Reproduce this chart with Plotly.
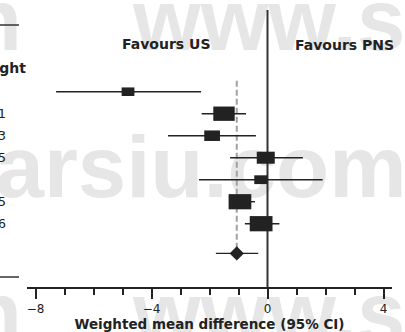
import plotly.graph_objects as go
import numpy as np

# ---- data ----
estimates = [-4.81, -1.50, -1.91, -0.06, -0.23, -0.95, -0.22]
ci_lower = [-7.29, -2.27, -3.43, -1.29, -2.36, -1.33, -0.78]
ci_upper = [-2.29, -0.74, -0.40, 1.22, 1.90, -0.43, 0.41]
weights = [6.8, 19.1, 10.3, 13.5, 7.2, 21.5, 21.6]
pooled_est = -1.06
pooled_lower = -1.78
pooled_upper = -0.32
x_tick_vals = [-8, -4, 0, 4]
x_title = "Weighted mean difference (95% CI)"
left_header = "Favours US"
right_header = "Favours PNS"
weight_header = "Weight"
watermark = "www.sarsiu.com"

# ---- layout geometry ----
W, H = 405, 332
ML, MR, MT, MB = 27, 13, 10, 45
PW, PH = W - ML - MR, H - MT - MB
XR = [-8.293, 4.293]
YR = [9.877, -2.714]          # reversed row axis
rows = list(range(1, len(estimates) + 1))
pooled_row = 8.35
INK = "#222222"


def px2x(px):
    return XR[0] + (px - ML) / PW * (XR[1] - XR[0])


def px2y(py):
    return YR[1] + (py - MT) / PH * (YR[0] - YR[1])


def paper_x(px):
    return (px - ML) / PW


def paper_y(py):
    return (H - MB - py) / PH


fig = go.Figure()

# watermark (drawn first so that everything sits on top of it)
WM = 87
NB = "\u00a0"
wm_font = dict(family="Liberation Sans, Arial", size=WM, color="#e6e6e6", weight="bold")
fig.add_trace(go.Scatter(
    x=[px2x(133), px2x(46), px2x(201), px2x(133), px2x(46)],
    y=[px2y(28), px2y(28), px2y(175), px2y(278), px2y(278)],
    text=[watermark, watermark[-1] + NB, watermark[5:], watermark, watermark[-1] + NB],
    mode="text",
    textposition=["middle right", "middle left", "middle center", "bottom right", "bottom left"],
    textfont=wm_font, cliponaxis=False, hoverinfo="skip", showlegend=False))

# line of no effect
fig.add_trace(go.Scatter(x=[0, 0], y=[YR[0], YR[1]], mode="lines",
                         line=dict(color="#333333", width=2),
                         hoverinfo="skip", showlegend=False))

# pooled estimate dashed line
fig.add_trace(go.Scatter(x=[pooled_est, pooled_est], y=[0.5, pooled_row], mode="lines",
                         line=dict(color="#a0a0a0", width=2, dash="6px,3px"),
                         hoverinfo="skip", showlegend=False))

# confidence intervals
cx, cy = [], []
for r, lo, hi in zip(rows, ci_lower, ci_upper):
    cx += [lo, hi, None]
    cy += [r, r, None]
cx += [pooled_lower, pooled_upper]
cy += [pooled_row, pooled_row]
fig.add_trace(go.Scatter(x=cx, y=cy, mode="lines", line=dict(color=INK, width=1.4),
                         hoverinfo="skip", showlegend=False))

# pooled diamond
fig.add_trace(go.Scatter(x=[pooled_est], y=[pooled_row], mode="markers",
                         marker=dict(symbol="diamond", size=11, color=INK,
                                     line=dict(width=0)),
                         hoverinfo="skip", showlegend=False))

# study boxes, area proportional to weight
BOX_W = 0.169   # x units per sqrt(weight)
BOX_H = 0.149   # row units per sqrt(weight)
for r, est, w in zip(rows, estimates, weights):
    s = np.sqrt(w)
    fig.add_shape(type="rect", xref="x", yref="y",
                  x0=est - BOX_W * s / 2, x1=est + BOX_W * s / 2,
                  y0=r - BOX_H * s / 2, y1=r + BOX_H * s / 2,
                  fillcolor=INK, line=dict(width=0), layer="above")

# table rules on the left
for py in (25, 277):
    fig.add_shape(type="line", xref="paper", yref="paper",
                  x0=paper_x(0), x1=paper_x(19), y0=paper_y(py), y1=paper_y(py),
                  line=dict(color="#333333", width=1.5))

annots = []
hdr_font = dict(family="DejaVu Sans", size=14, color=INK, weight="bold")
annots.append(dict(text=left_header, x=px2x(166), y=px2y(44), xref="x", yref="y",
                   showarrow=False, font=hdr_font))
annots.append(dict(text=right_header, x=px2x(344), y=px2y(45), xref="x", yref="y",
                   showarrow=False, font=hdr_font))
annots.append(dict(text=weight_header, x=paper_x(28), y=px2y(68), xref="paper", yref="y",
                   xanchor="right", showarrow=False, font=hdr_font))
for r, w in zip(rows, weights):
    annots.append(dict(text=f"{w:.1f}", x=paper_x(-25), y=r, xref="paper", yref="y",
                       xanchor="left", showarrow=False,
                       font=dict(family="DejaVu Sans", size=13, color=INK)))

fig.update_layout(
    width=W, height=H,
    margin=dict(l=ML, r=MR, t=MT, b=MB, pad=0, autoexpand=False),
    paper_bgcolor="white", plot_bgcolor="white",
    showlegend=False,
    annotations=annots,
    xaxis=dict(range=XR, showgrid=False, zeroline=False, automargin=False,
               showline=True, linecolor=INK, linewidth=1.5,
               ticks="outside", ticklen=10, tickwidth=1.5, tickcolor=INK,
               tickvals=x_tick_vals, ticktext=[f"{v}".replace("-", "\u2212") for v in x_tick_vals],
               minor=dict(ticks="outside", ticklen=6, tickwidth=1.5, tickcolor=INK,
                          dtick=1, tick0=0, showgrid=False),
               tickfont=dict(family="DejaVu Sans", size=12, color=INK),
               title=dict(text=x_title, standoff=4,
                          font=dict(family="DejaVu Sans", size=13.5, color=INK, weight="bold")),
               fixedrange=True),
    yaxis=dict(range=YR, visible=False, fixedrange=True, automargin=False),
)

fig.write_html("out.html")
